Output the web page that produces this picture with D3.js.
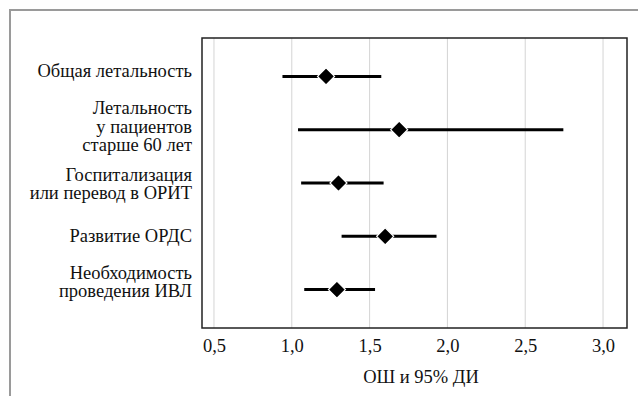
<!DOCTYPE html>
<html>
<head>
<meta charset="utf-8">
<script src="https://cdn.jsdelivr.net/npm/d3@7"></script>
<style>
  body { margin: 0; background: #fff; }
</style>
</head>
<body>
<div id="chart"></div>
<script>

// data
const outcomes = [
	["Общая летальность"],
	["Летальность", "у пациентов", "старше 60 лет"],
	["Госпитализация", "или перевод в ОРИТ"],
	["Развитие ОРДС"],
	["Необходимость", "проведения ИВЛ"]
];
const oddsRatio = [1.22, 1.69, 1.30, 1.60, 1.29];
const ciLow = [0.94, 1.04, 1.06, 1.32, 1.08];
const ciHigh = [1.575, 2.745, 1.59, 1.93, 1.535];
const xTicks = [0.5, 1.0, 1.5, 2.0, 2.5, 3.0];
const xTitle = "ОШ и 95% ДИ";

const serif = "'Liberation Serif', 'Times New Roman', serif";
const fontSize = "18.5px";

function forest(){

	const width = 638, height = 396;
	const margin = {left: 202, right: 11, top: 38, bottom: 68};

	//labels in the original were nudged by hand a little
	const labelNudge = [-3.5, -1, 3, 2, -5.5];

	let svg = d3.select("#chart")
		.append("svg")
		.attr("width", width)
		.attr("height", height);

	//outer frame, only top and left edges show
	svg.append("rect")
		.attr("x", 10)
		.attr("y", 10)
		.attr("width", 700)
		.attr("height", 500)
		.attr("fill", "none")
		.attr("stroke", "#9a9a9a")
		.attr("stroke-width", 2);

	let x = d3.scaleLinear()
		.domain([0.423, 3.154])
		.range([margin.left, width - margin.right]);

	let y = d3.scalePoint()
		.domain(d3.range(outcomes.length))
		.range([margin.top, height - margin.bottom])
		.padding(0.72);

	//grid
	svg.append("g")
		.selectAll("line")
		.data(xTicks)
		.enter().append("line")
		.attr("x1", d => x(d))
		.attr("x2", d => x(d))
		.attr("y1", margin.top)
		.attr("y2", height - margin.bottom)
		.attr("stroke", "#d4d4d4")
		.attr("stroke-width", 1);

	//plot frame
	svg.append("rect")
		.attr("x", margin.left)
		.attr("y", margin.top)
		.attr("width", width - margin.right - margin.left)
		.attr("height", height - margin.bottom - margin.top)
		.attr("fill", "none")
		.attr("stroke", "#222")
		.attr("stroke-width", 1.5);

	//x axis
	let xAxis = d3.axisBottom(x)
		.tickValues(xTicks)
		.tickSize(0)
		.tickFormat(d => d3.format(".1f")(d).replace(".", ","));

	let ax = svg.append("g")
		.attr("transform", "translate(0," + (height - margin.bottom) + ")")
		.call(xAxis);
	ax.select(".domain").remove();
	ax.attr("font-family", null).attr("font-size", null);
	ax.selectAll("text")
		.attr("dy", null)
		.attr("y", 352 - (height - margin.bottom))
		.style("font-family", serif)
		.style("font-size", fontSize)
		.attr("fill", "#111");

	svg.append("text")
		.attr("x", 421)
		.attr("y", 383)
		.attr("text-anchor", "middle")
		.style("font-family", serif)
		.style("font-size", fontSize)
		.attr("fill", "#111")
		.text(xTitle);

	//category labels
	const lineH = 18.3;
	let labels = svg.append("g")
		.selectAll("text")
		.data(outcomes)
		.enter().append("text")
		.attr("text-anchor", "end")
		.style("font-family", serif)
		.style("font-size", fontSize)
		.attr("fill", "#111")
		.attr("y", (d, i) => y(i) + 4 + labelNudge[i] - (d.length - 1) * lineH / 2);

	labels.selectAll("tspan")
		.data(d => d)
		.enter().append("tspan")
		.attr("x", 192)
		.attr("dy", (d, i) => i === 0 ? 0 : lineH)
		.text(d => d);

	//confidence intervals
	svg.append("g")
		.selectAll("line")
		.data(oddsRatio)
		.enter().append("line")
		.attr("x1", (d, i) => x(ciLow[i]))
		.attr("x2", (d, i) => x(ciHigh[i]))
		.attr("y1", (d, i) => y(i))
		.attr("y2", (d, i) => y(i))
		.attr("stroke", "#000")
		.attr("stroke-width", 3);

	//diamonds
	svg.append("g")
		.selectAll("path")
		.data(oddsRatio)
		.enter().append("path")
		.attr("transform", (d, i) => "translate(" + x(d) + "," + y(i) + ")")
		.attr("d", "M0,-8.5L8.5,0L0,8.5L-8.5,0Z")
		.attr("fill", "#000")
		.attr("stroke", "#fff")
		.attr("stroke-width", 1.2);
}

forest();
</script>
</body>
</html>
